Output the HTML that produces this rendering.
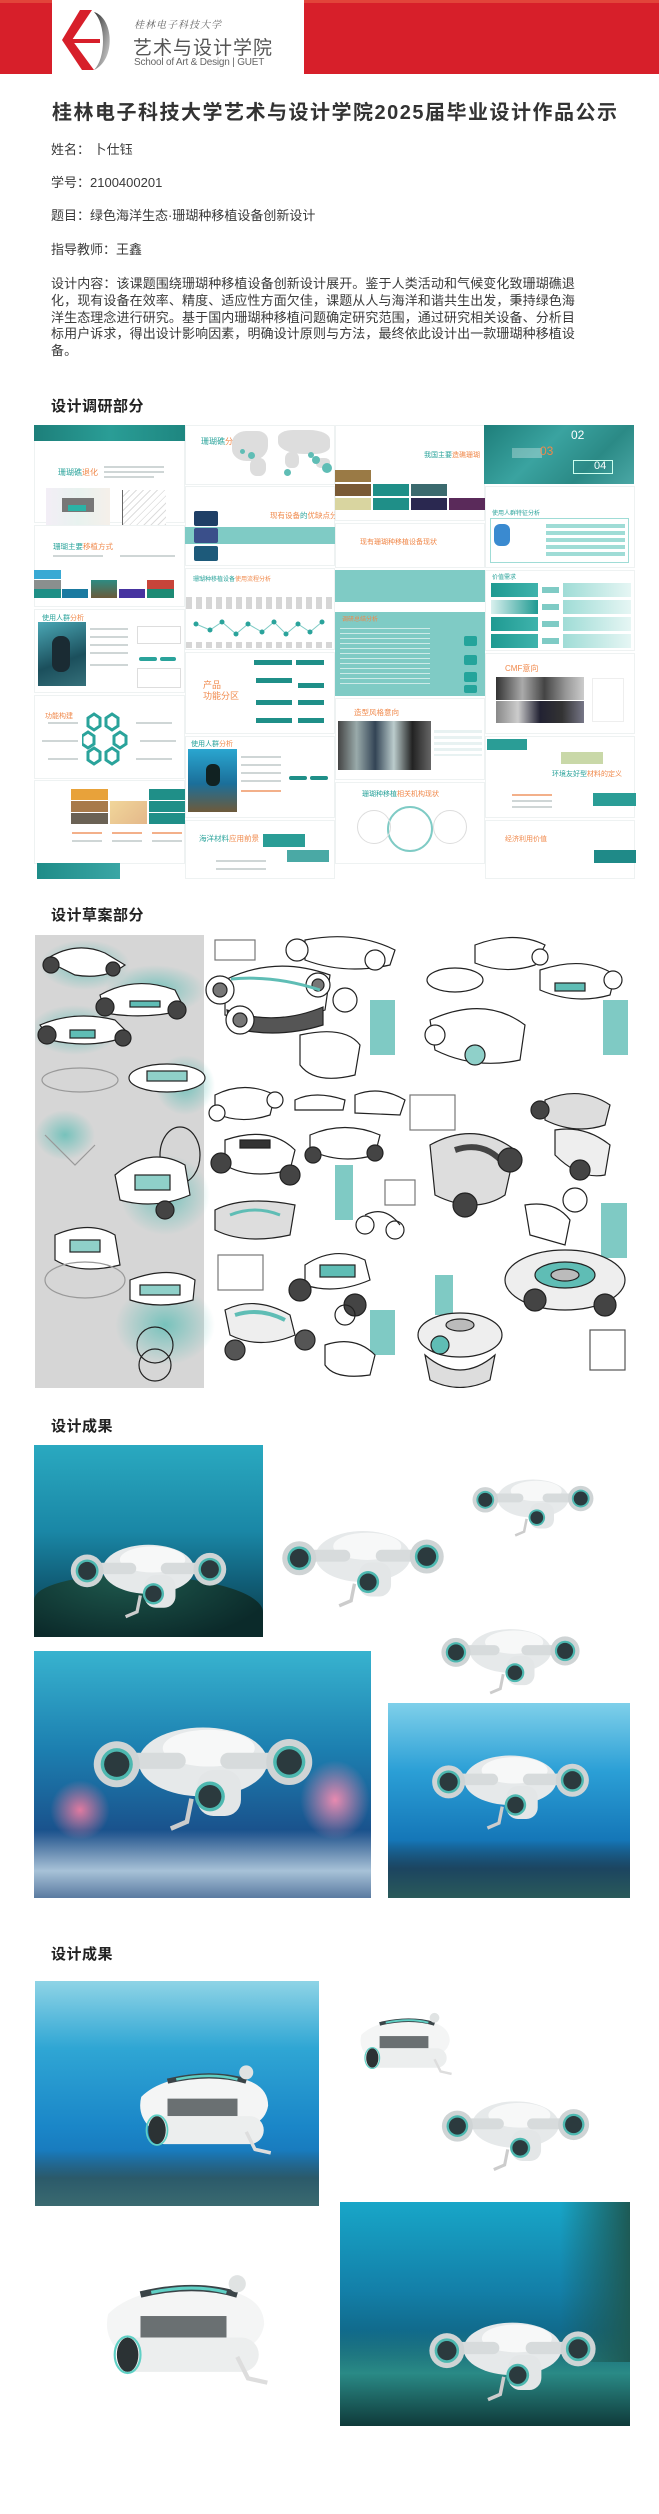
<!DOCTYPE html>
<html><head><meta charset="utf-8">
<style>
*{margin:0;padding:0;box-sizing:border-box}
body{width:659px;height:2514px;background:#fff;position:relative;overflow:hidden;font-family:"Liberation Sans","Noto Sans CJK SC",sans-serif;color:#333}
.a{position:absolute}
.t{position:absolute;font-size:13px;color:#3a3a3a;white-space:nowrap;line-height:16px}
.h{position:absolute;font-size:15px;font-weight:bold;color:#222;white-space:nowrap;letter-spacing:.5px}
.sl{position:absolute;background:#fff;border:1px solid #eef2f2}
.tl{position:absolute;font-size:7px;white-space:nowrap;color:#2aa39b;line-height:9px}
.tl b{color:#f0884a;font-weight:normal}
.g{position:absolute;height:2px;background:#cfd6d6}
.tc{background:#5fbdb5}
.dk{background:#1f8f88}
</style></head><body>

<!-- header -->
<div class="a" style="left:0;top:0;width:659px;height:74px;background:#d71f2a"></div>
<div class="a" style="left:0;top:0;width:659px;height:3px;background:#e2443a"></div>
<div class="a" style="left:52px;top:0;width:252px;height:74px;background:#fff"></div>
<svg class="a" style="left:60px;top:8px" width="70" height="66" viewBox="0 0 70 66">
 <defs><linearGradient id="lg" x1="0" y1="0" x2="1" y2="1"><stop offset="0" stop-color="#333"/><stop offset="1" stop-color="#ddd"/></linearGradient></defs>
 <path d="M20 2 L32 2 L12 32 L34 62 L22 62 L2 32 Z" fill="#d71f2a"/>
 <path d="M4 31 L40 31 L40 35 L4 35Z" fill="#d71f2a"/>
 <path d="M34 4 C54 10 56 52 34 62 C46 50 46 16 34 4Z" fill="url(#lg)"/>
</svg>
<div class="a" style="left:134px;top:16px;font-size:10px;color:#666;font-family:'Liberation Serif','Noto Serif CJK SC',serif;font-style:italic;letter-spacing:1px">桂林电子科技大学</div>
<div class="a" style="left:133px;top:33px;font-size:19px;color:#555;letter-spacing:1px">艺术与设计学院</div>
<div class="a" style="left:134px;top:57px;font-size:10px;color:#666;letter-spacing:-.2px">School of Art &amp; Design | GUET</div>

<div class="a" style="left:52px;top:96px;font-size:20px;font-weight:bold;color:#333;letter-spacing:1.5px;white-space:nowrap">桂林电子科技大学艺术与设计学院2025届毕业设计作品公示</div>

<div class="t" style="left:51px;top:142px">姓名：&nbsp;卜仕钰</div>
<div class="t" style="left:51px;top:175px">学号：2100400201</div>
<div class="t" style="left:51px;top:208px">题目：绿色海洋生态·珊瑚种移植设备创新设计</div>
<div class="t" style="left:51px;top:242px">指导教师：王鑫</div>
<div class="t" style="left:51px;top:276px;line-height:16.8px;font-size:13px;letter-spacing:.1px">设计内容：该课题围绕珊瑚种移植设备创新设计展开。鉴于人类活动和气候变化致珊瑚礁退<br>化，现有设备在效率、精度、适应性方面欠佳，课题从人与海洋和谐共生出发，秉持绿色海<br>洋生态理念进行研究。基于国内珊瑚种移植问题确定研究范围，通过研究相关设备、分析目<br>标用户诉求，得出设计影响因素，明确设计原则与方法，最终依此设计出一款珊瑚种移植设<br>备。</div>

<div class="h" style="left:51px;top:395px">设计调研部分</div>

<!-- research collage -->
<div class="a" style="left:34px;top:425px;width:603px;height:455px;background:#fff"></div>
<!-- col1 -->
<div class="sl" style="left:34px;top:425px;width:151px;height:98px"></div>
<div class="a dk" style="left:34px;top:425px;width:151px;height:16px;background:linear-gradient(90deg,#1d7f7a,#2a9d96,#1e8680)"></div>
<div class="tl" style="left:58px;top:468px;font-size:8px">珊瑚礁<b>退化</b></div>
<div class="g" style="left:104px;top:466px;width:60px"></div><div class="g" style="left:104px;top:471px;width:60px"></div><div class="g" style="left:104px;top:476px;width:50px"></div>
<div class="a" style="left:46px;top:488px;width:64px;height:40px;background:linear-gradient(90deg,#f3eef6,#e8f2ef,#f5f0ea)"></div>
<div class="a" style="left:62px;top:498px;width:32px;height:14px;background:#777"></div>
<div class="a" style="left:68px;top:505px;width:18px;height:6px;background:#2bb3a6"></div>
<div class="a" style="left:122px;top:490px;width:44px;height:36px;border-left:1px solid #666;border-bottom:1px solid #666;background:repeating-linear-gradient(135deg,#fff 0 4px,#ddd 4px 5px)"></div>
<div class="sl" style="left:34px;top:525px;width:151px;height:82px"></div>
<div class="tl" style="left:53px;top:542px;font-size:7.5px">珊瑚主要<b>移植方式</b></div>
<div class="g" style="left:53px;top:555px;width:50px"></div><div class="g" style="left:120px;top:555px;width:55px"></div>
<div class="a" style="left:34px;top:570px;width:27px;height:9px;background:#39a9d4"></div>
<div class="a" style="left:34px;top:580px;width:27px;height:9px;background:#8a8f8e"></div>
<div class="a" style="left:34px;top:589px;width:27px;height:9px;background:#1e8f86"></div>
<div class="a" style="left:62px;top:589px;width:26px;height:9px;background:#1a7aa0"></div>
<div class="a" style="left:91px;top:580px;width:26px;height:18px;background:linear-gradient(#2e8b82,#6b5a3a)"></div>
<div class="a" style="left:119px;top:589px;width:26px;height:9px;background:#4633a0"></div>
<div class="a" style="left:147px;top:580px;width:27px;height:9px;background:#c8443a"></div>
<div class="a" style="left:147px;top:589px;width:27px;height:9px;background:#1d8a74"></div>
<div class="sl" style="left:34px;top:609px;width:151px;height:84px"></div>
<div class="tl" style="left:42px;top:614px">使用人群<b>分析</b></div>
<div class="a" style="left:38px;top:622px;width:48px;height:64px;background:linear-gradient(160deg,#4aa7b5,#1b4f5c 60%,#35707a)"></div>
<div class="a" style="left:52px;top:636px;width:18px;height:36px;border-radius:8px;background:#1a2b33"></div>
<div class="g" style="left:90px;top:628px;width:38px"></div><div class="g" style="left:90px;top:636px;width:38px"></div><div class="g" style="left:90px;top:644px;width:38px"></div><div class="g" style="left:90px;top:652px;width:38px"></div><div class="g" style="left:90px;top:664px;width:38px"></div>
<div class="a" style="left:137px;top:626px;width:44px;height:18px;border:1px solid #ddd"></div>
<div class="a" style="left:139px;top:657px;width:18px;height:4px;background:#2aa39b;border-radius:2px"></div>
<div class="a" style="left:160px;top:657px;width:16px;height:4px;background:#2aa39b;border-radius:2px"></div>
<div class="a" style="left:137px;top:668px;width:44px;height:20px;border:1px solid #ddd"></div>
<div class="sl" style="left:34px;top:695px;width:151px;height:84px"></div>
<div class="tl" style="left:45px;top:712px"><b>功能构建</b></div>
<svg class="a" style="left:82px;top:710px" width="50" height="56" viewBox="0 0 50 56">
<g fill="none" stroke="#2aa39b" stroke-width="3">
<polygon points="12,4 18,8 18,16 12,20 6,16 6,8"/><polygon points="30,4 36,8 36,16 30,20 24,16 24,8"/>
<polygon points="6,22 12,26 12,34 6,38 0,34 0,26"/><polygon points="38,22 44,26 44,34 38,38 32,34 32,26"/>
<polygon points="12,38 18,42 18,50 12,54 6,50 6,42"/><polygon points="30,38 36,42 36,50 30,54 24,50 24,42"/></g></svg>
<div class="g" style="left:48px;top:722px;width:30px"></div><div class="g" style="left:136px;top:722px;width:36px"></div><div class="g" style="left:42px;top:740px;width:36px"></div><div class="g" style="left:140px;top:740px;width:36px"></div><div class="g" style="left:48px;top:758px;width:30px"></div><div class="g" style="left:136px;top:758px;width:36px"></div>
<div class="sl" style="left:34px;top:780px;width:151px;height:84px"></div>
<div class="a" style="left:71px;top:789px;width:37px;height:11px;background:#e8a23a"></div>
<div class="a" style="left:71px;top:801px;width:37px;height:11px;background:#a87a4a"></div>
<div class="a" style="left:71px;top:813px;width:37px;height:11px;background:#6b6255"></div>
<div class="a" style="left:110px;top:801px;width:37px;height:23px;background:linear-gradient(135deg,#f1d69a,#e4b88a)"></div>
<div class="a dk" style="left:149px;top:789px;width:36px;height:11px"></div>
<div class="a dk" style="left:149px;top:801px;width:36px;height:11px"></div>
<div class="a dk" style="left:149px;top:813px;width:36px;height:11px"></div>
<div class="g" style="left:72px;top:832px;width:30px;background:#f3b08a"></div><div class="g" style="left:112px;top:832px;width:30px;background:#f3b08a"></div><div class="g" style="left:152px;top:832px;width:30px;background:#f3b08a"></div>
<div class="g" style="left:72px;top:840px;width:30px"></div><div class="g" style="left:112px;top:840px;width:30px"></div><div class="g" style="left:152px;top:840px;width:30px"></div>
<div class="a" style="left:37px;top:863px;width:83px;height:16px;background:linear-gradient(90deg,#1e8c88,#3aa6a5)"></div>
<!-- col2 -->
<div class="sl" style="left:185px;top:425px;width:150px;height:60px"></div>
<div class="tl" style="left:201px;top:437px;font-size:8px">珊瑚礁<b>分布</b></div>
<div class="a" style="left:232px;top:431px;width:36px;height:30px;background:#ddd;border-radius:40% 30% 50% 40%"></div>
<div class="a" style="left:250px;top:458px;width:16px;height:18px;background:#ddd;border-radius:40%"></div>
<div class="a" style="left:278px;top:430px;width:52px;height:24px;background:#ddd;border-radius:30% 40% 30% 50%"></div>
<div class="a" style="left:285px;top:452px;width:14px;height:16px;background:#ddd;border-radius:40%"></div>
<div class="a" style="left:316px;top:458px;width:14px;height:10px;background:#ddd;border-radius:40%"></div>
<div class="a tc" style="left:240px;top:449px;width:5px;height:5px;border-radius:50%"></div>
<div class="a tc" style="left:248px;top:452px;width:7px;height:7px;border-radius:50%"></div>
<div class="a tc" style="left:284px;top:469px;width:7px;height:7px;border-radius:50%"></div>
<div class="a tc" style="left:308px;top:452px;width:6px;height:6px;border-radius:50%"></div>
<div class="a tc" style="left:312px;top:456px;width:8px;height:8px;border-radius:50%"></div>
<div class="a tc" style="left:322px;top:463px;width:10px;height:10px;border-radius:50%"></div>
<div class="sl" style="left:185px;top:486px;width:150px;height:80px"></div>
<div class="tl" style="left:270px;top:511px;font-size:7.5px"><b>现有设备</b>的<b>优缺点分析</b></div>
<div class="a" style="left:185px;top:527px;width:150px;height:17px;background:#7fcbc5"></div>
<div class="a" style="left:194px;top:511px;width:24px;height:15px;background:#1f3f66;border-radius:2px"></div>
<div class="a" style="left:194px;top:528px;width:24px;height:15px;background:#3a4f8a;border-radius:2px"></div>
<div class="a" style="left:194px;top:546px;width:24px;height:15px;background:#1d5a7a;border-radius:2px"></div>
<div class="sl" style="left:185px;top:568px;width:150px;height:82px"></div>
<div class="tl" style="left:193px;top:576px;font-size:6px">珊瑚种移植设备<b>使用流程分析</b></div>
<div class="a" style="left:186px;top:597px;width:148px;height:12px;background:repeating-linear-gradient(90deg,#bbb 0 6px,#fff 6px 10px);opacity:.6"></div>
<svg class="a" style="left:186px;top:618px" width="148" height="22"><polyline points="10,6 24,12 36,4 50,16 62,6 76,14 88,4 100,16 112,6 124,14 136,4" fill="none" stroke="#7fcbc5" stroke-width="1"/>
<g fill="#2aa39b"><circle cx="10" cy="6" r="2.5"/><circle cx="24" cy="12" r="2.5"/><circle cx="36" cy="4" r="2.5"/><circle cx="50" cy="16" r="2.5"/><circle cx="62" cy="6" r="2.5"/><circle cx="76" cy="14" r="2.5"/><circle cx="88" cy="4" r="2.5"/><circle cx="100" cy="16" r="2.5"/><circle cx="112" cy="6" r="2.5"/><circle cx="124" cy="14" r="2.5"/><circle cx="136" cy="4" r="2.5"/></g></svg>
<div class="a" style="left:186px;top:642px;width:148px;height:6px;background:repeating-linear-gradient(90deg,#bbb 0 6px,#fff 6px 10px);opacity:.6"></div>
<div class="sl" style="left:185px;top:652px;width:150px;height:82px"></div>
<div class="tl" style="left:203px;top:680px;font-size:9px;line-height:11px;color:#f0884a">产品<br>功能分区</div>
<div class="a dk" style="left:254px;top:660px;width:38px;height:5px"></div><div class="a dk" style="left:296px;top:660px;width:28px;height:5px"></div>
<div class="a dk" style="left:256px;top:678px;width:36px;height:5px"></div><div class="a dk" style="left:298px;top:683px;width:26px;height:5px"></div>
<div class="a dk" style="left:256px;top:700px;width:36px;height:5px"></div><div class="a dk" style="left:298px;top:700px;width:26px;height:5px"></div>
<div class="a dk" style="left:256px;top:718px;width:36px;height:5px"></div><div class="a dk" style="left:298px;top:718px;width:26px;height:5px"></div>
<div class="sl" style="left:185px;top:736px;width:150px;height:82px"></div>
<div class="tl" style="left:191px;top:740px">使用人群<b>分析</b></div>
<div class="a" style="left:188px;top:749px;width:49px;height:63px;background:linear-gradient(180deg,#2aa6d0,#1b6f9a 55%,#6e5a3a)"></div>
<div class="a" style="left:206px;top:764px;width:14px;height:22px;border-radius:6px;background:#122"></div>
<div class="g" style="left:241px;top:756px;width:40px"></div><div class="g" style="left:241px;top:764px;width:40px"></div><div class="g" style="left:241px;top:772px;width:40px"></div><div class="g" style="left:241px;top:780px;width:40px"></div><div class="g" style="left:241px;top:790px;width:40px;background:#f3b08a"></div>
<div class="a dk" style="left:289px;top:776px;width:18px;height:4px;border-radius:2px"></div><div class="a dk" style="left:310px;top:776px;width:18px;height:4px;border-radius:2px"></div>
<div class="sl" style="left:185px;top:820px;width:150px;height:59px"></div>
<div class="tl" style="left:199px;top:834px;font-size:7.5px">海洋材料<b>应用前景</b></div>
<div class="a" style="left:263px;top:834px;width:42px;height:13px;background:#2a9d96"></div>
<div class="a" style="left:287px;top:850px;width:42px;height:12px;background:#4aa9a5"></div>
<div class="g" style="left:216px;top:860px;width:50px"></div><div class="g" style="left:216px;top:868px;width:50px"></div>
<!-- col3 -->
<div class="sl" style="left:335px;top:425px;width:150px;height:96px"></div>
<div class="tl" style="left:424px;top:451px;font-size:7px">我国主要<b>造礁珊瑚</b></div>
<div class="a" style="left:335px;top:470px;width:36px;height:12px;background:#9a7a45"></div>
<div class="a" style="left:335px;top:484px;width:36px;height:12px;background:#7a5a35"></div>
<div class="a dk" style="left:373px;top:484px;width:36px;height:12px"></div>
<div class="a" style="left:411px;top:484px;width:36px;height:12px;background:#3b6a6e"></div>
<div class="a" style="left:335px;top:498px;width:36px;height:12px;background:#d9d5a0"></div>
<div class="a dk" style="left:373px;top:498px;width:36px;height:12px"></div>
<div class="a" style="left:411px;top:498px;width:36px;height:12px;background:#2a2850"></div>
<div class="a" style="left:449px;top:498px;width:36px;height:12px;background:#5a2a5a"></div>
<div class="sl" style="left:335px;top:523px;width:150px;height:45px"></div>
<div class="tl" style="left:360px;top:538px;font-size:7px"><b>现有珊瑚种移植设备现状</b></div>
<div class="a" style="left:335px;top:570px;width:150px;height:32px;background:#7fcbc5"></div>
<div class="a" style="left:335px;top:612px;width:150px;height:84px;background:#7fcbc5"></div>
<div class="tl" style="left:342px;top:616px;color:#f0884a;font-size:6px">调研总结分析</div>
<div class="a" style="left:340px;top:628px;width:90px;height:60px;background:repeating-linear-gradient(180deg,#fff 0 1px,transparent 1px 5px);opacity:.6"></div>
<div class="a" style="left:464px;top:636px;width:13px;height:10px;border-radius:2px;background:#24a49b"></div>
<div class="a" style="left:464px;top:655px;width:13px;height:10px;border-radius:2px;background:#24a49b"></div>
<div class="a" style="left:464px;top:672px;width:13px;height:10px;border-radius:2px;background:#24a49b"></div>
<div class="a" style="left:464px;top:685px;width:13px;height:8px;border-radius:2px;background:#24a49b"></div>
<div class="sl" style="left:335px;top:698px;width:150px;height:82px"></div>
<div class="tl" style="left:354px;top:708px;font-size:7.5px"><b>造型风格意向</b></div>
<div class="a" style="left:338px;top:721px;width:93px;height:49px;background:linear-gradient(90deg,#444 0,#9aa 20%,#345 40%,#bcc 60%,#222 80%,#666)"></div>
<div class="a" style="left:434px;top:730px;width:48px;height:26px;background:repeating-linear-gradient(180deg,#e8f2f2 0 3px,#fff 3px 6px)"></div>
<div class="sl" style="left:335px;top:782px;width:150px;height:82px"></div>
<div class="tl" style="left:362px;top:790px;font-size:7px">珊瑚种移植<b>相关机构现状</b></div>
<div class="a" style="left:387px;top:806px;width:46px;height:46px;border:2px solid #7fcbc5;border-radius:50%"></div>
<div class="a" style="left:357px;top:810px;width:34px;height:34px;border:1px solid #ddd;border-radius:50%"></div>
<div class="a" style="left:433px;top:810px;width:34px;height:34px;border:1px solid #ddd;border-radius:50%"></div>
<!-- col4 -->
<div class="a" style="left:484px;top:425px;width:150px;height:59px;background:linear-gradient(135deg,#1e7e7a,#3aa3a0 40%,#2b8a86 70%,#4aa7a5)"></div>
<div class="a" style="left:512px;top:448px;width:30px;height:10px;background:rgba(255,255,255,.3)"></div>
<div class="a" style="left:571px;top:428px;font-size:12px;color:#fff">02</div>
<div class="a" style="left:540px;top:444px;font-size:12px;color:#f0884a">03</div>
<div class="a" style="left:573px;top:460px;width:40px;height:14px;border:1px solid #cfe"></div>
<div class="a" style="left:594px;top:460px;font-size:11px;color:#fff">04</div>
<div class="sl" style="left:485px;top:486px;width:150px;height:82px"></div>
<div class="tl" style="left:492px;top:510px;font-size:6px">使用人群特征分析</div>
<div class="a" style="left:490px;top:518px;width:139px;height:45px;border:1px solid #9fdcd6"></div>
<div class="a" style="left:494px;top:524px;width:16px;height:22px;background:#3a8ad0;border-radius:6px"></div>
<div class="a" style="left:546px;top:524px;width:79px;height:4px;background:#9fdcd6"></div><div class="a" style="left:546px;top:531px;width:79px;height:4px;background:#9fdcd6"></div><div class="a" style="left:546px;top:538px;width:79px;height:4px;background:#9fdcd6"></div><div class="a" style="left:546px;top:545px;width:79px;height:4px;background:#9fdcd6"></div><div class="a" style="left:546px;top:552px;width:79px;height:4px;background:#9fdcd6"></div>
<div class="sl" style="left:485px;top:570px;width:150px;height:81px"></div>
<div class="tl" style="left:492px;top:574px;font-size:6px">价值需求</div>
<div class="a" style="left:491px;top:583px;width:47px;height:14px;background:linear-gradient(90deg,#1f9a92,#3fb3ac)"></div>
<div class="a" style="left:491px;top:600px;width:47px;height:14px;background:linear-gradient(90deg,#d9f0ee,#1f9a92)"></div>
<div class="a" style="left:491px;top:617px;width:47px;height:14px;background:linear-gradient(90deg,#1f9a92,#3fb3ac)"></div>
<div class="a" style="left:491px;top:634px;width:47px;height:14px;background:linear-gradient(90deg,#1f9a92,#3fb3ac)"></div>
<div class="a" style="left:542px;top:587px;width:17px;height:6px;background:#7fcbc5"></div><div class="a" style="left:542px;top:604px;width:17px;height:6px;background:#7fcbc5"></div><div class="a" style="left:542px;top:621px;width:17px;height:6px;background:#7fcbc5"></div><div class="a" style="left:542px;top:638px;width:17px;height:6px;background:#7fcbc5"></div>
<div class="a" style="left:563px;top:583px;width:68px;height:14px;background:linear-gradient(90deg,#9fdcd6,#e6f6f4)"></div>
<div class="a" style="left:563px;top:600px;width:68px;height:14px;background:linear-gradient(90deg,#9fdcd6,#e6f6f4)"></div>
<div class="a" style="left:563px;top:617px;width:68px;height:14px;background:linear-gradient(90deg,#9fdcd6,#e6f6f4)"></div>
<div class="a" style="left:563px;top:634px;width:68px;height:14px;background:linear-gradient(90deg,#9fdcd6,#e6f6f4)"></div>
<div class="sl" style="left:485px;top:653px;width:150px;height:81px"></div>
<div class="tl" style="left:505px;top:664px;font-size:8px;color:#f0884a">CMF<b>意向</b></div>
<div class="a" style="left:496px;top:677px;width:88px;height:23px;background:linear-gradient(90deg,#333,#aaa 30%,#444 55%,#999 80%,#ccc)"></div>
<div class="a" style="left:496px;top:701px;width:88px;height:22px;background:linear-gradient(90deg,#888,#ccc 25%,#223 50%,#333 75%,#778)"></div>
<div class="a" style="left:592px;top:678px;width:32px;height:44px;border:1px solid #eee"></div>
<div class="sl" style="left:485px;top:736px;width:150px;height:82px"></div>
<div class="a" style="left:487px;top:739px;width:40px;height:11px;background:#2a9d96"></div>
<div class="a" style="left:561px;top:752px;width:42px;height:12px;background:#c9d8a8"></div>
<div class="tl" style="left:552px;top:770px;font-size:7px">环境友好型<b>材料的定义</b></div>
<div class="sl" style="left:485px;top:820px;width:150px;height:59px"></div>
<div class="tl" style="left:505px;top:835px;font-size:7px"><b>经济利用价值</b></div>
<div class="a" style="left:593px;top:793px;width:43px;height:13px;background:#2a9d96"></div>
<div class="a" style="left:594px;top:850px;width:42px;height:13px;background:#1f8a88"></div>
<div class="g" style="left:512px;top:794px;width:40px;background:#f3b08a"></div><div class="g" style="left:512px;top:800px;width:40px"></div><div class="g" style="left:512px;top:806px;width:40px"></div>

<div class="h" style="left:51px;top:904px">设计草案部分</div>

<!-- sketches -->
<div class="a" style="left:35px;top:935px;width:169px;height:453px;background:#d6d6d6"></div>
<svg class="a" style="left:35px;top:935px" width="598" height="453" viewBox="0 0 598 453">
<defs><radialGradient id="glow"><stop offset="0" stop-color="#5fbdb5" stop-opacity=".8"/><stop offset="1" stop-color="#5fbdb5" stop-opacity="0"/></radialGradient></defs>
<g>
<ellipse cx="50" cy="30" rx="45" ry="25" fill="url(#glow)"/><ellipse cx="120" cy="55" rx="50" ry="25" fill="url(#glow)"/><ellipse cx="40" cy="95" rx="45" ry="25" fill="url(#glow)"/>
<ellipse cx="150" cy="150" rx="30" ry="30" fill="url(#glow)"/><ellipse cx="30" cy="200" rx="30" ry="25" fill="url(#glow)"/><ellipse cx="130" cy="260" rx="45" ry="40" fill="url(#glow)"/><ellipse cx="130" cy="390" rx="50" ry="40" fill="url(#glow)"/>
</g>
<g fill="#fff" stroke="#222" stroke-width="1.2">
<path d="M10 25 Q40 5 70 18 L90 30 Q70 45 40 40 Z"/><circle cx="16" cy="30" r="8" fill="#444"/><circle cx="78" cy="34" r="7" fill="#444"/>
<path d="M65 60 Q100 40 140 55 L150 75 Q110 85 70 78 Z"/><circle cx="70" cy="72" r="9" fill="#444"/><circle cx="142" cy="75" r="9" fill="#444"/><rect x="95" y="66" width="30" height="6" fill="#5fbdb5"/>
<path d="M5 90 Q40 75 80 85 L95 100 Q60 115 15 105 Z"/><circle cx="12" cy="100" r="9" fill="#444"/><circle cx="88" cy="103" r="8" fill="#444"/><rect x="35" y="95" width="25" height="8" fill="#5fbdb5"/>
<ellipse cx="45" cy="145" rx="38" ry="12" fill="none" stroke="#999"/><ellipse cx="132" cy="143" rx="38" ry="14"/><rect x="112" y="136" width="40" height="10" fill="#8fd0c9"/>
<path d="M10 200 L40 230 L60 210" fill="none" stroke="#999"/><ellipse cx="145" cy="220" rx="20" ry="28" fill="none"/>
<path d="M80 240 Q115 210 150 230 L155 260 Q120 275 85 265 Z"/><rect x="100" y="240" width="35" height="15" fill="#8fd0c9"/><circle cx="130" cy="275" r="9" fill="#444"/>
<path d="M20 300 Q55 285 80 300 L85 330 Q45 340 20 325 Z"/><rect x="35" y="305" width="30" height="12" fill="#8fd0c9"/>
<ellipse cx="50" cy="345" rx="40" ry="18" fill="none" stroke="#999"/><path d="M95 345 Q135 330 160 345 L158 365 Q125 375 95 365 Z"/><rect x="105" y="350" width="40" height="10" fill="#8fd0c9"/>
<circle cx="120" cy="410" r="18" fill="none"/><circle cx="120" cy="430" r="16" fill="none"/>
<rect x="180" y="5" width="40" height="20" fill="none" stroke="#777"/>
<path d="M190 45 Q240 20 295 40 L290 75 Q240 95 190 80 Z"/><path d="M192 75 Q240 92 288 72 L288 90 Q240 105 195 92 Z" fill="#555"/>
<circle cx="185" cy="55" r="14"/><circle cx="185" cy="55" r="7" fill="#777"/><circle cx="283" cy="50" r="12"/><circle cx="283" cy="50" r="6" fill="#777"/><circle cx="205" cy="85" r="14"/><circle cx="205" cy="85" r="7" fill="#777"/>
<path d="M196 44 Q240 40 285 55" fill="none" stroke="#5fbdb5" stroke-width="3"/>
<path d="M270 5 Q320 -5 360 15 L355 30 Q310 40 270 25Z"/><circle cx="262" cy="15" r="11"/><circle cx="340" cy="25" r="10"/>
<circle cx="310" cy="65" r="12" fill="none"/>
<path d="M265 100 Q310 90 325 110 L320 140 Q280 150 265 130 Z"/><rect x="335" y="65" width="25" height="55" fill="#5fbdb5" stroke="none" opacity=".8"/>
<path d="M180 160 Q210 145 240 160 L235 180 Q205 190 180 178Z"/><circle cx="182" cy="178" r="8"/><circle cx="240" cy="165" r="8"/>
<path d="M260 165 Q280 155 310 165 L308 175 L260 175Z"/><path d="M320 160 Q345 150 370 165 L365 180 L320 178Z"/>
<path d="M190 205 Q235 190 260 215 L255 235 Q215 245 190 230 Z"/><rect x="205" y="205" width="30" height="8" fill="#333"/><circle cx="186" cy="228" r="10" fill="#444"/><circle cx="255" cy="240" r="10" fill="#444"/>
<path d="M275 200 Q310 185 345 200 L340 220 Q305 230 275 215Z"/><circle cx="278" cy="220" r="8" fill="#444"/><circle cx="340" cy="218" r="8" fill="#444"/>
<rect x="350" y="245" width="30" height="25" fill="none" stroke="#777"/><rect x="300" y="230" width="18" height="55" fill="#5fbdb5" stroke="none" opacity=".8"/>
<path d="M180 275 Q210 260 260 270 L255 300 Q210 310 180 295Z" fill="#ddd"/><path d="M195 280 Q220 270 245 280" stroke="#5fbdb5" stroke-width="3" fill="none"/>
<circle cx="330" cy="290" r="9"/><circle cx="360" cy="295" r="9"/><path d="M330 280 Q350 270 365 290" fill="none"/>
<rect x="183" y="320" width="45" height="35" fill="none" stroke="#777"/>
<path d="M270 330 Q300 310 330 325 L335 345 Q300 360 270 350Z"/><rect x="285" y="330" width="35" height="12" fill="#5fbdb5"/><circle cx="265" cy="355" r="11" fill="#444"/><circle cx="320" cy="370" r="11" fill="#444"/>
<path d="M190 375 Q220 360 255 380 L260 400 Q225 415 195 400Z" fill="#eee"/><path d="M200 380 Q225 372 250 385" stroke="#5fbdb5" stroke-width="4" fill="none"/><circle cx="200" cy="415" r="10" fill="#555"/><circle cx="270" cy="405" r="10" fill="#555"/>
<circle cx="310" cy="380" r="10" fill="none"/><rect x="335" y="375" width="25" height="45" fill="#5fbdb5" stroke="none" opacity=".8"/><path d="M290 410 Q320 400 340 420 L335 440 Q300 445 290 430Z"/>
<path d="M440 10 Q480 -5 510 10 L500 30 Q470 40 440 28Z"/><circle cx="505" cy="22" r="8"/>
<ellipse cx="420" cy="45" rx="28" ry="12" fill="none"/>
<path d="M505 35 Q550 20 580 40 L575 60 Q540 70 505 55Z"/><rect x="520" y="48" width="30" height="8" fill="#5fbdb5"/><circle cx="578" cy="45" r="9"/>
<path d="M395 85 Q450 60 490 90 L485 125 Q440 135 400 115Z"/><circle cx="400" cy="100" r="10"/><circle cx="440" cy="120" r="10" fill="#8fd0c9"/><rect x="568" y="65" width="25" height="55" fill="#5fbdb5" stroke="none" opacity=".8"/>
<rect x="375" y="160" width="45" height="35" fill="none" stroke="#777"/>
<path d="M510 165 Q545 150 575 170 L570 190 Q540 200 510 185Z" fill="#ddd"/><circle cx="505" cy="175" r="9" fill="#444"/>
<path d="M520 195 Q550 190 575 210 L570 240 Q545 245 520 220Z" fill="#eee"/><circle cx="545" cy="235" r="10" fill="#444"/>
<path d="M395 210 Q440 185 480 215 L470 260 Q440 280 400 260Z" fill="#ddd"/><path d="M420 215 Q450 205 470 230" stroke="#444" stroke-width="6" fill="none"/><circle cx="475" cy="225" r="12" fill="#444"/><circle cx="430" cy="270" r="12" fill="#444"/>
<circle cx="540" cy="265" r="12" fill="none"/><path d="M490 270 Q520 265 535 285 L530 310 L495 300Z"/><rect x="566" y="268" width="26" height="55" fill="#5fbdb5" stroke="none" opacity=".8"/>
<rect x="400" y="340" width="18" height="40" fill="#5fbdb5" stroke="none" opacity=".8"/>
<ellipse cx="530" cy="345" rx="60" ry="30" fill="#eee"/><ellipse cx="530" cy="340" rx="30" ry="13" fill="#5fbdb5"/><ellipse cx="530" cy="340" rx="14" ry="6" fill="#bbb"/><circle cx="500" cy="365" r="11" fill="#444"/><circle cx="570" cy="370" r="11" fill="#444"/>
<ellipse cx="425" cy="400" rx="42" ry="22" fill="#eee"/><ellipse cx="425" cy="390" rx="14" ry="6" fill="#bbb"/><circle cx="405" cy="410" r="9" fill="#5fbdb5"/><path d="M390 420 Q425 450 460 420 L455 445 Q425 460 395 445Z" fill="#ddd"/>
<rect x="555" y="395" width="35" height="40" fill="none" stroke="#555"/>
</g></svg>

<div class="h" style="left:51px;top:1415px">设计成果</div>

<svg width="0" height="0" style="position:absolute">
<defs>
<symbol id="rov" viewBox="0 0 200 110">
<ellipse cx="100" cy="48" rx="56" ry="30" fill="#e6e9ea"/>
<ellipse cx="105" cy="36" rx="40" ry="16" fill="#f7f8f8"/>
<rect x="25" y="40" width="60" height="14" rx="7" fill="#d7dbdc"/><rect x="115" y="40" width="60" height="14" rx="7" fill="#d7dbdc"/>
<circle cx="25" cy="50" r="20" fill="#cfd4d5"/><circle cx="25" cy="50" r="14" fill="#4db8b0"/><circle cx="25" cy="50" r="11" fill="#2b3a3e"/>
<circle cx="175" cy="48" r="20" fill="#cfd4d5"/><circle cx="175" cy="48" r="14" fill="#4db8b0"/><circle cx="175" cy="48" r="11" fill="#2b3a3e"/>
<rect x="95" y="55" width="38" height="40" rx="14" fill="#e3e6e7"/><circle cx="106" cy="78" r="13" fill="#4db8b0"/><circle cx="106" cy="78" r="10" fill="#2b3a3e"/>
<path d="M90 80 L86 100 L72 106" stroke="#ccc" stroke-width="4" fill="none"/>
</symbol>
<symbol id="rov2" viewBox="0 0 200 110">
<path d="M30 40 Q60 10 140 18 Q175 25 175 50 Q170 80 120 75 L40 75 Q25 60 30 40Z" fill="#f4f5f5"/>
<path d="M60 22 Q110 10 150 22" stroke="#3a4448" stroke-width="6" fill="none"/><path d="M70 20 Q110 12 140 20" stroke="#5fd0c5" stroke-width="3" fill="none"/>
<rect x="60" y="42" width="80" height="20" fill="#6a7072"/>
<rect x="40" y="62" width="130" height="32" rx="16" fill="#eceeee"/><ellipse cx="48" cy="78" rx="10" ry="16" fill="#2b3234"/><ellipse cx="48" cy="78" rx="12" ry="17" fill="none" stroke="#5fd0c5" stroke-width="2"/>
<circle cx="150" cy="12" r="8" fill="#e0e3e3"/>
<path d="M150 80 L160 100 L178 104" stroke="#ddd" stroke-width="4" fill="none"/>
</symbol>
</defs></svg>

<!-- results 1 -->
<div class="a" style="left:34px;top:1445px;width:229px;height:192px;background:linear-gradient(180deg,#2aa9c0 0%,#1a87a6 45%,#11607a 70%,#0b3a44 100%)"></div>
<div class="a" style="left:34px;top:1575px;width:229px;height:62px;background:radial-gradient(ellipse at 40% 0%,#1f5a4e,#0b2a2a 80%);border-radius:40% 60% 0 0"></div>
<svg class="a" style="left:66px;top:1530px" width="165" height="90"><use href="#rov"/></svg>
<svg class="a" style="left:278px;top:1515px" width="170" height="95"><use href="#rov"/></svg>
<svg class="a" style="left:463px;top:1468px" width="140" height="70"><use href="#rov"/></svg>
<svg class="a" style="left:428px;top:1616px" width="165" height="80"><use href="#rov"/></svg>

<div class="a" style="left:34px;top:1651px;width:337px;height:247px;background:linear-gradient(180deg,#38b3cf 0%,#1c7fb0 40%,#1a4f8a 75%,#2a4a7a 100%)"></div>
<div class="a" style="left:34px;top:1830px;width:337px;height:68px;background:linear-gradient(180deg,rgba(130,170,200,0),#a7c2d8 60%,#5a7aa0)"></div>
<div class="a" style="left:50px;top:1780px;width:60px;height:60px;background:radial-gradient(#e07aa0,rgba(224,122,160,0) 70%)"></div>
<div class="a" style="left:300px;top:1760px;width:70px;height:80px;background:radial-gradient(#e88ab0,rgba(232,138,176,0) 70%)"></div>
<svg class="a" style="left:88px;top:1705px" width="230" height="130"><use href="#rov"/></svg>

<div class="a" style="left:388px;top:1703px;width:242px;height:195px;background:linear-gradient(180deg,#7fd0ea 0%,#2b9fd6 35%,#1577b8 70%,#14507a 100%)"></div>
<div class="a" style="left:388px;top:1840px;width:242px;height:58px;background:linear-gradient(180deg,rgba(20,60,90,0),#1c4560 50%,#2a5a5a)"></div>
<svg class="a" style="left:428px;top:1740px" width="165" height="92"><use href="#rov"/></svg>

<div class="h" style="left:51px;top:1943px">设计成果</div>

<!-- results 2 -->
<div class="a" style="left:35px;top:1981px;width:284px;height:225px;background:linear-gradient(180deg,#8fd4e6 0%,#2fa6d4 30%,#1a86c8 65%,#1563a8 100%)"></div>
<div class="a" style="left:35px;top:2150px;width:284px;height:56px;background:linear-gradient(180deg,rgba(30,80,110,0),#2b5a6a 50%,#3a6a70)"></div>
<svg class="a" style="left:115px;top:2055px" width="175" height="110"><use href="#rov2"/></svg>
<svg class="a" style="left:343px;top:2010px" width="122" height="68"><use href="#rov2"/></svg>
<svg class="a" style="left:438px;top:2075px" width="155" height="110"><use href="#rov"/></svg>
<svg class="a" style="left:76px;top:2270px" width="215" height="120"><use href="#rov2"/></svg>
<div class="a" style="left:340px;top:2202px;width:290px;height:224px;background:linear-gradient(180deg,#18a6c8 0%,#137fa8 40%,#0f5c78 70%,#0e4a52 100%)"></div>
<div class="a" style="left:340px;top:2330px;width:290px;height:96px;background:linear-gradient(180deg,rgba(40,120,120,0),#2a8a86 45%,#0f3a3a)"></div>
<div class="a" style="left:560px;top:2202px;width:70px;height:160px;background:linear-gradient(90deg,rgba(20,70,70,0),#1d5a55)"></div>
<svg class="a" style="left:425px;top:2300px" width="175" height="110"><use href="#rov"/></svg>
</body></html>
